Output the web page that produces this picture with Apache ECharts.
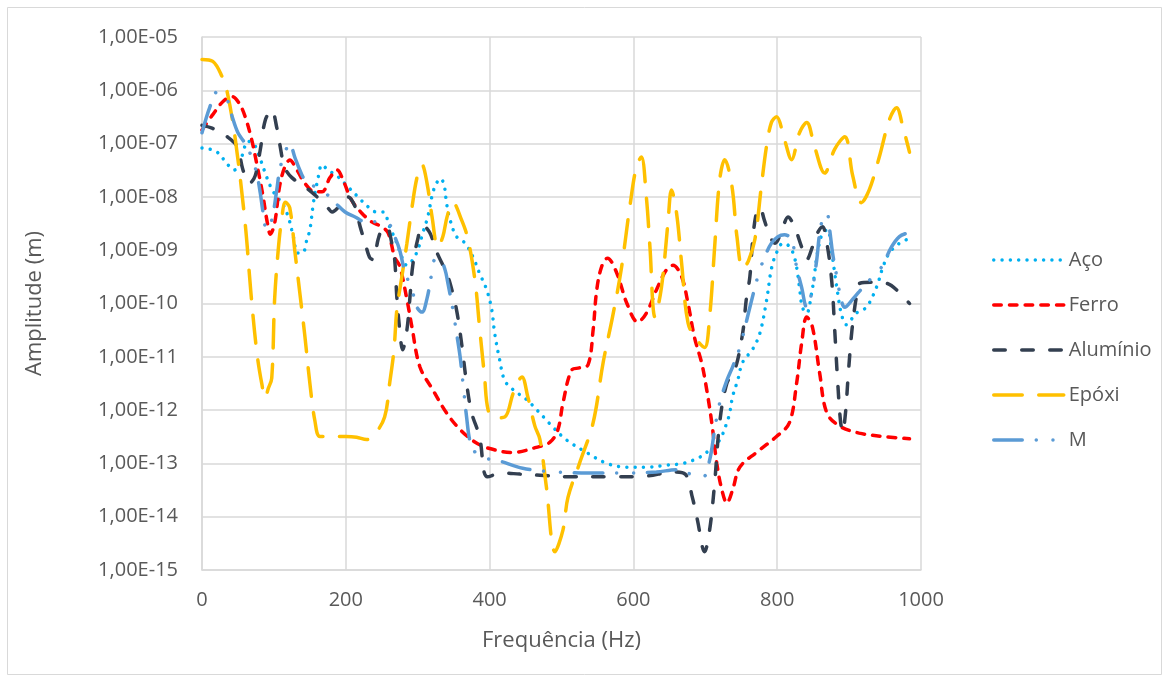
<!DOCTYPE html>
<html>
<head>
<meta charset="utf-8">
<script src="https://cdn.jsdelivr.net/npm/echarts@6/dist/echarts.min.js"></script>
<style>html,body{margin:0;padding:0;background:#fff;}#c{width:1169px;height:682px;}</style>
</head>
<body>
<div id="c"></div>
<script>
// Frequency (Hz) and amplitude (m)
var acoF = [0,20,36,45,55,64,72,80,88,95,104,111,120,127,133,140,146,150,155,161,167,175,189,203,217,231,243,252,261,271,278,285,292,300,307,314,321,327,332,337,340,345,354,366,377,386,396,403,407,414,421,433,452,466,479,488,507,535,563,591,618,646,669,692,706,720,730,734,738,745,752,766,776,785,792,799,808,815,822,827,831,835,841,848,852,856,863,870,876,880,884,889,896,910,924,938,947,956,970,981];
var acoA = [8.3e-8,7.1e-8,4e-8,3.2e-8,5.6e-8,1.1e-7,1e-7,5.6e-8,2.8e-8,1.6e-8,1e-8,7.9e-9,4.2e-9,1.8e-9,8.9e-10,8.9e-10,1.6e-9,2.4e-9,7.8e-9,2.1e-8,4e-8,3.2e-8,2.4e-8,1.55e-8,1e-8,6.5e-9,5.2e-9,5.2e-9,2.75e-9,1.35e-9,7.4e-10,5.2e-10,6.3e-10,1e-9,2.1e-9,4.2e-9,1.2e-8,1.9e-8,2.2e-8,1.6e-8,7.8e-9,3.7e-9,1.8e-9,1.35e-9,7.4e-10,3.7e-10,1.8e-10,7.6e-11,2.8e-11,8.7e-12,3.6e-12,2.4e-12,1.55e-12,1e-12,6.5e-13,4.8e-13,2.75e-13,1.6e-13,1e-13,8.5e-14,8.5e-14,9.3e-14,1e-13,1.3e-13,1.8e-13,2.75e-13,5.8e-13,8.9e-13,1.8e-12,3.6e-12,7.9e-12,1.4e-11,2.8e-11,1.1e-10,4.5e-10,8.9e-10,1.35e-9,1.25e-9,8.9e-10,4.8e-10,2e-10,8.5e-11,6.6e-11,1.6e-10,3.7e-10,8.9e-10,2.1e-9,2.4e-9,8.9e-10,3.7e-10,1.6e-10,6.6e-11,4e-11,6.6e-11,8.5e-11,2e-10,4.8e-10,8.9e-10,1.35e-9,1.6e-9];

var ferroF = [0,15,30,42,52,60,69,76,84,91,95,101,108,115,122,132,143,157,167,178,188,196,208,222,236,250,259,268,275,285,292,303,321,340,359,380,400,432,465,484,495,502,514,525,537,544,549,556,564,577,591,606,618,632,646,655,667,676,685,695,702,709,716,723,730,738,748,771,799,817,827,834,841,849,859,869,887,914,947,984];
var ferroA = [1.8e-7,3.5e-7,6.3e-7,7.6e-7,5.6e-7,3.2e-7,1.2e-7,4.3e-8,1.2e-8,3.2e-9,2e-9,3.2e-9,1.6e-8,3.6e-8,4.9e-8,3.2e-8,1.8e-8,1.25e-8,1.25e-8,2.3e-8,3.2e-8,2.1e-8,8.7e-9,5e-9,3.4e-9,2.75e-9,2.1e-9,7.4e-10,5e-10,1.2e-10,3.6e-11,6.5e-12,2.4e-12,8.9e-13,4.3e-13,2.5e-13,1.9e-13,1.6e-13,2e-13,2.5e-13,4.3e-13,1.35e-12,5.6e-12,6.2e-12,7.1e-12,3.2e-11,1.8e-10,5e-10,7.1e-10,3.7e-10,1e-10,4.5e-11,6.6e-11,1.8e-10,4.3e-10,5.2e-10,3.2e-10,1e-10,2.3e-11,7.6e-12,2.4e-12,5.8e-13,1e-13,3.2e-14,1.8e-14,3.2e-14,8.5e-14,1.6e-13,3.2e-13,5.8e-13,3.2e-12,1.8e-11,5.6e-11,3.6e-11,5e-12,8.9e-13,5e-13,3.7e-13,3.2e-13,2.9e-13];

var aluF = [0,14,35,49,57,66,74,81,88,97,104,108,115,125,143,160,174,181,195,203,213,220,227,233,238,245,250,257,264,268,271,275,279,285,289,293,300,307,317,327,338,345,354,361,368,375,386,397,418,442,470,516,571,618,655,672,682,689,699,706,713,720,730,741,752,757,762,766,771,776,782,790,797,808,815,824,834,841,849,856,863,870,876,880,884,888,891,895,899,904,910,915,933,952,970,984];
var aluA = [2.2e-7,1.95e-7,1.35e-7,8.7e-8,3.2e-8,1.8e-8,2.5e-8,7.6e-8,2.75e-7,4.3e-7,2e-7,1e-7,3.6e-8,2.3e-8,1.55e-8,1e-8,6.5e-9,5.2e-9,7.8e-9,1e-8,6.5e-9,2.75e-9,1.35e-9,7.4e-10,6.6e-10,1.6e-9,2.4e-9,2.75e-9,1.35e-9,6.6e-10,1.3e-10,3.2e-11,1.35e-11,3.2e-11,1.2e-10,5e-10,1.6e-9,2.95e-9,2.1e-9,8.9e-10,4.3e-10,2.4e-10,7.6e-11,1.8e-11,3.2e-12,8.9e-13,3.2e-13,5.6e-14,6.6e-14,6.3e-14,6e-14,5.6e-14,5.6e-14,5.8e-14,6.9e-14,6.3e-14,2.3e-14,8.7e-15,2.2e-15,5.6e-15,4.3e-14,5.8e-13,3.2e-12,5.6e-12,2.8e-11,1.2e-10,3.2e-10,1.6e-9,5e-9,6.3e-9,3.7e-9,1.8e-9,1.35e-9,2.75e-9,4.2e-9,2.75e-9,1.15e-9,6.6e-10,1.15e-9,2.1e-9,2.75e-9,1.15e-9,2.5e-10,3.2e-11,3.6e-12,6.3e-13,3.9e-13,8.9e-13,5e-12,3.2e-11,1.3e-10,2.4e-10,2.5e-10,2.4e-10,1.6e-10,1e-10];

var epoxiF = [0,15,28,35,46,60,68,76,83,88,92,97,101,106,111,116,122,129,136,143,150,157,164,180,200,215,229,240,254,261,267,271,278,285,292,299,306,313,320,328,335,341,349,361,370,380,386,393,398,407,421,433,445,453,463,470,479,491,502,509,525,544,558,571,583,595,604,611,618,623,630,639,648,653,660,667,676,688,699,706,713,720,727,737,744,752,760,769,778,785,792,799,810,820,831,841,852,866,880,894,905,917,928,942,956,966,975,984];
var epoxiA = [3.8e-6,3.5e-6,1.8e-6,9.3e-7,1.3e-7,3.2e-9,1.6e-10,1.3e-11,3.2e-12,1.7e-12,2.5e-12,4e-12,1.2e-10,1e-9,4e-9,7.9e-9,6.3e-9,1e-9,1.6e-10,2.5e-11,3.2e-12,6.3e-13,3.2e-13,3.2e-13,3.2e-13,3.1e-13,2.8e-13,3.5e-13,7.4e-13,3.2e-12,1.35e-11,7.6e-11,3.2e-10,1.35e-9,6.3e-9,2.3e-8,4e-8,1.8e-8,4.2e-9,1.15e-9,1.8e-9,4.3e-9,7.9e-9,3.7e-9,1.6e-9,2.5e-10,3.6e-11,4.2e-12,1e-12,7.1e-13,7.4e-13,2.1e-12,4.2e-12,1.8e-12,5e-13,2.8e-13,3.6e-14,2.2e-15,5.6e-15,2.3e-14,1e-13,5.8e-13,7.9e-12,5.6e-11,4.3e-10,6.5e-9,3.6e-8,5.6e-8,1e-8,1.15e-9,5.6e-11,2e-10,3.2e-9,1.35e-8,5e-9,5.8e-10,4.3e-11,2.1e-11,1.5e-11,5.6e-11,1.15e-9,2.1e-8,5e-8,1.6e-8,1.8e-9,4.5e-10,6.3e-10,1.6e-9,1.6e-8,8.7e-8,2.5e-7,3.2e-7,1.2e-7,5e-8,1.6e-7,2.5e-7,8.7e-8,2.8e-8,7.9e-8,1.35e-7,2.5e-8,7.8e-9,1.35e-8,5.6e-8,2.8e-7,4.7e-7,2e-7,6.9e-8];

var mF = [0,11,21,35,42,50,60,69,76,81,85,90,97,104,108,115,122,129,136,143,157,171,185,199,213,227,245,259,268,275,282,292,299,306,313,318,324,331,338,342,349,354,359,363,368,373,380,386,410,446,493,539,585,632,660,680,697,706,713,720,730,738,748,762,769,776,785,792,801,810,820,827,834,841,848,855,859,863,869,873,877,882,887,894,905,919,933,945,959,970,981];
var mA = [1.6e-7,4.9e-7,9.3e-7,6.6e-7,3.2e-7,1.6e-7,1e-7,5.6e-8,2.8e-8,1.2e-8,5e-9,2.4e-9,3.7e-9,1.35e-8,3.2e-8,6.6e-8,1e-7,5.6e-8,3.2e-8,2.1e-8,1.55e-8,1.2e-8,7.8e-9,5.2e-9,4.2e-9,3.4e-9,3.4e-9,3.2e-9,1.8e-9,1e-9,4e-10,1.8e-10,8.5e-11,6.9e-11,1.25e-10,2.8e-10,6.6e-10,6.6e-10,4.3e-10,2.4e-10,7.6e-11,2.8e-11,1e-11,3.2e-12,7.4e-13,2.5e-13,1.6e-13,1.3e-13,1.15e-13,8.1e-14,6.9e-14,6.6e-14,6.6e-14,6.9e-14,7.6e-14,6.3e-14,5.6e-14,1.15e-13,4.3e-13,1.35e-12,3.6e-12,6.5e-12,1.5e-11,8.5e-11,2e-10,4.3e-10,8.9e-10,1.35e-9,1.8e-9,1.95e-9,1.6e-9,4.8e-10,2e-10,8.5e-11,1.6e-10,6.6e-10,2.1e-9,3.7e-9,5e-9,2.4e-9,8.9e-10,3.7e-10,1.6e-10,8.5e-11,1.2e-10,2e-10,3.2e-10,4.8e-10,1.15e-9,1.8e-9,2.1e-9];

var seriesNames = ['Aço','Ferro','Alumínio','Epóxi','M'];
var xTicks = [0,200,400,600,800,1000];
var yMin = 1e-15, yMax = 1e-5;

function pairs(f, a){ var out=[]; for (var i=0;i<f.length;i++) out.push([f[i], a[i]]); return out; }

var FONT = '"Open Sans", "Noto Sans", sans-serif';
var TXT = '#595959';
var W = 3.5;

var chart = echarts.init(document.getElementById('c'), null, {renderer:'canvas'});
chart.setOption({
  animation:false,
  backgroundColor:'#ffffff',
  graphic:[{type:'rect', shape:{x:7.5,y:7.5,width:1154,height:667}, style:{fill:'none', stroke:'#D9D9D9', lineWidth:1}, silent:true, z:-1}],
  grid:{left:202, right:248, top:37, bottom:112},
  xAxis:{type:'value', min:xTicks[0], max:xTicks[xTicks.length-1], interval:200,
    name:'Frequência (Hz)', nameLocation:'middle', nameGap:60,
    nameTextStyle:{color:TXT, fontSize:22, fontFamily:FONT},
    axisLine:{show:true, lineStyle:{color:'#D9D9D9', width:1.5}},
    axisTick:{show:false},
    axisLabel:{color:TXT, fontSize:20, fontFamily:FONT, margin:20,
      formatter:function(v){ return String(v); }},
    splitLine:{show:true, lineStyle:{color:'#D9D9D9', width:1.5}}},
  yAxis:{type:'log', logBase:10, min:yMin, max:yMax, splitNumber:10,
    name:'Amplitude (m)', nameLocation:'middle', nameGap:156,
    nameTextStyle:{color:TXT, fontSize:22, fontFamily:FONT},
    axisLine:{show:true, lineStyle:{color:'#D9D9D9', width:1.5}},
    axisTick:{show:false},
    minorTick:{show:false},
    axisLabel:{color:TXT, fontSize:20, fontFamily:FONT, margin:24,
      formatter:function(v){ var e=Math.round(Math.log(v)/Math.LN10); var s=Math.abs(e); return '1,00E'+(e<0?'-':'+')+(s<10?'0':'')+s; }},
    splitLine:{show:true, lineStyle:{color:'#D9D9D9', width:1.5}}},
  legend:{orient:'vertical', left:987, top:245, itemWidth:70, itemHeight:20, itemGap:25,
    itemStyle:{opacity:0, borderWidth:0},
    lineStyle:{width:W},
    textStyle:{color:TXT, fontSize:20, fontFamily:FONT},
    data:seriesNames},
  series:[
    {name:seriesNames[0], type:'line', data:pairs(acoF,acoA), smooth:0.35, symbol:'none',
      lineStyle:{color:'#00B0F0', width:W, type:[0.01,8.3], cap:'round'}, itemStyle:{color:'#00B0F0'}},
    {name:seriesNames[1], type:'line', data:pairs(ferroF,ferroA), smooth:0.35, symbol:'none',
      lineStyle:{color:'#FF0000', width:W, type:[7.5,8.2], cap:'round'}, itemStyle:{color:'#FF0000'}},
    {name:seriesNames[2], type:'line', data:pairs(aluF,aluA), smooth:0.35, symbol:'none',
      lineStyle:{color:'#333F50', width:W, type:[11.5,16.5], cap:'round'}, itemStyle:{color:'#333F50'}},
    {name:seriesNames[3], type:'line', data:pairs(epoxiF,epoxiA), smooth:0.35, symbol:'none',
      lineStyle:{color:'#FFC000', width:W, type:[28.5,16.5], cap:'round'}, itemStyle:{color:'#FFC000'}},
    {name:seriesNames[4], type:'line', data:pairs(mF,mA), smooth:0.35, symbol:'none',
      lineStyle:{color:'#5B9BD5', width:W, type:[28.5,14,0.01,16.7,0.01,14], cap:'round'}, itemStyle:{color:'#5B9BD5'},
      markLine:{silent:true, symbol:'none', label:{show:false}, lineStyle:{color:'#5B9BD5', width:2, type:'solid'},
        data:[{yAxis:yMax}]}}
  ]
});
</script>
</body>
</html>
